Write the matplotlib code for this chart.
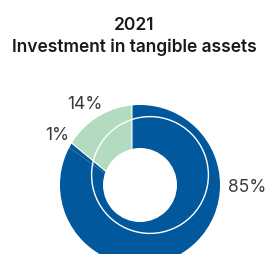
import matplotlib
matplotlib.use("Agg")
import matplotlib.pyplot as plt
from matplotlib.patches import Circle, Wedge
import numpy as np

# chart data
year = "2021"
title = "Investment in tangible assets"
shares = [14, 1, 85]
share_labels = ["14%", "1%", "85%"]
colors = ["#b3dbc0", "#02589c", "#02589c"]

# label placement (angle in degrees, distance in radii)
label_angles = [124.0, 148.5, -1.0]
label_dist = [1.23, 1.21, 1.34]

plt.rcParams["font.family"] = ["Inter", "DejaVu Sans"]

fig = plt.figure(figsize=(2.69, 2.55), dpi=100)
ax = fig.add_axes([0, 0, 1, 1])

# pie drawn a bit off-centre and larger, then trimmed to the ring
wedges, _ = ax.pie(shares, colors=colors, startangle=90, counterclock=True,
                   center=(-0.1, -0.1), radius=1.3,
                   wedgeprops=dict(edgecolor="white", linewidth=0))
# only the light slice gets a white seam
wedges[0].set_linewidth(0.8)
wedges[0].set_zorder(3)

# white mask outside the outer rim, then the hole
ax.add_patch(Wedge((0, 0), 2.0, 0, 360, width=1.0, facecolor="white",
                   edgecolor="none", zorder=4))
ax.add_patch(Circle((0, 0), 0.4625, facecolor="white", edgecolor="none", zorder=4))
ax.add_patch(Circle((0.125, 0.125), 0.73, fill=False, edgecolor="white",
                    linewidth=1.0, zorder=4))

for lab, ang, d in zip(share_labels, label_angles, label_dist):
    a = np.deg2rad(ang)
    ax.text(d * np.cos(a), d * np.sin(a), lab, ha="center", va="center",
            fontsize=12.5, color="#3a3a3a", zorder=5)

ax.set_aspect("auto")
ax.set_xlim(-1.75, 1.6125)
ax.set_ylim(-0.8625, 2.325)
ax.axis("off")

fig.text(0.5, 1 - 25 / 255, year, ha="center", va="center",
         fontsize=12.5, fontweight="semibold", color="#1a1a1a")
fig.text(0.5, 1 - 47 / 255, title, ha="center", va="center",
         fontsize=12.5, fontweight="semibold", color="#1a1a1a")

fig.savefig("out.png", dpi=100)
